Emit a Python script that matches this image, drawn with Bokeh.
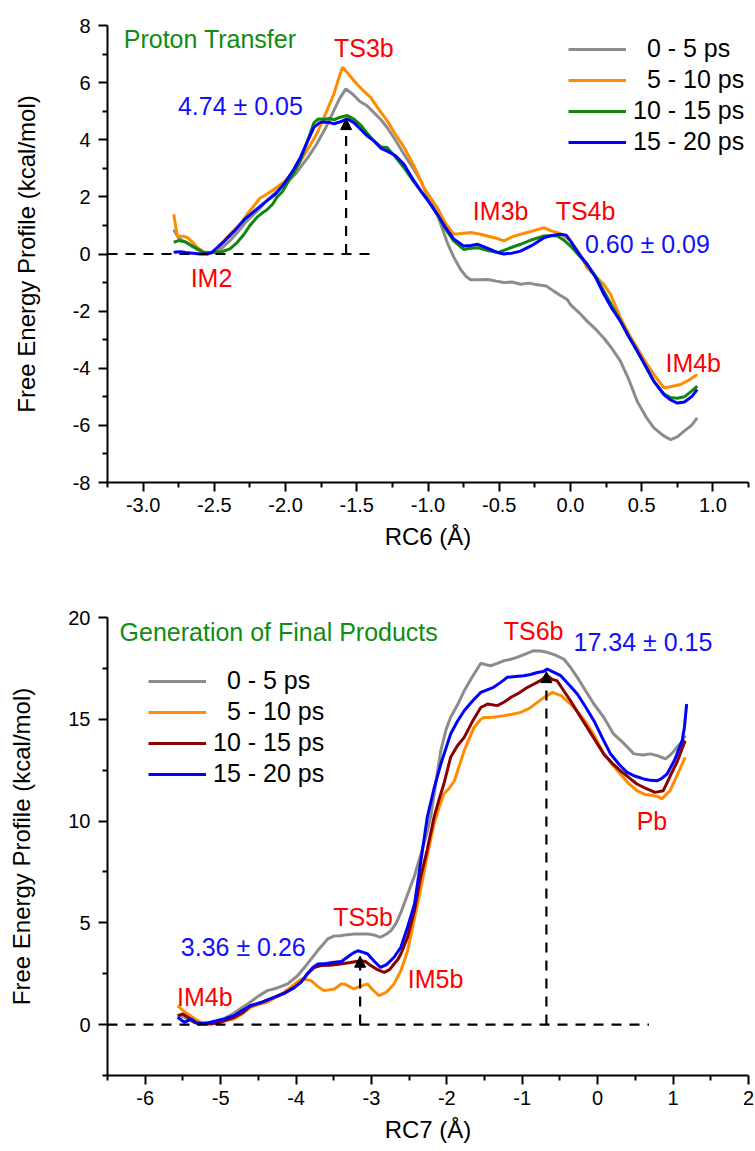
from bokeh.plotting import figure
from bokeh.models import (FixedTicker, PrintfTickFormatter, Legend, LegendItem,
                          Arrow, NormalHead)
from bokeh.layouts import column
from bokeh.embed import file_html
from bokeh.resources import INLINE
from bokeh.core.properties import value

FONT = "Liberation Sans"

series_labels = ["\u20070 - 5 ps", "\u20075 - 10 ps", "10 - 15 ps", "15 - 20 ps"]

# ---------------- Top panel: RC6 (Proton Transfer) ----------------
rc6_gray_x = [-2.785, -2.75, -2.70, -2.65, -2.60, -2.55, -2.50, -2.45, -2.39, -2.33, -2.27, -2.20, -2.13,
              -2.06, -1.99, -1.93, -1.895, -1.84, -1.78, -1.72, -1.66, -1.62, -1.577, -1.53, -1.48, -1.43,
              -1.38, -1.33, -1.287, -1.23, -1.17, -1.11, -1.05, -1.006, -0.97, -0.935, -0.90, -0.865,
              -0.82, -0.77, -0.73, -0.70, -0.64, -0.58, -0.52, -0.467, -0.41, -0.35, -0.29, -0.233,
              -0.17, -0.117, -0.07, -0.023, 0.0, 0.06, 0.117, 0.18, 0.234, 0.29, 0.351, 0.41, 0.469,
              0.53, 0.586, 0.65, 0.703, 0.75, 0.796, 0.85, 0.89]
rc6_gray_y = [0.85, 0.55, 0.40, 0.25, 0.12, 0.02, 0.05, 0.2, 0.47, 0.8, 1.17, 1.5, 1.87, 2.2, 2.51, 2.8,
              3.04, 3.4, 3.86, 4.4, 5.03, 5.45, 5.78, 5.6, 5.35, 5.2, 4.95, 4.7, 4.43, 4.0, 3.5, 3.05,
              2.56, 2.05, 1.75, 1.39, 0.9, 0.4, -0.1, -0.55, -0.8, -0.9, -0.9, -0.89, -0.95, -1.0,
              -0.98, -1.06, -1.02, -1.08, -1.12, -1.3, -1.45, -1.59, -1.77, -2.05, -2.35, -2.65, -2.94,
              -3.3, -3.75, -4.4, -5.16, -5.7, -6.09, -6.35, -6.5, -6.4, -6.21, -6.0, -5.74]

rc6_orange_x = [-2.785, -2.76, -2.72, -2.69, -2.65, -2.62, -2.58, -2.55, -2.50, -2.45, -2.40, -2.36,
                -2.31, -2.27, -2.22, -2.18, -2.13, -2.08, -2.03, -1.99, -1.94, -1.895, -1.84, -1.78,
                -1.72, -1.66, -1.63, -1.60, -1.55, -1.50, -1.45, -1.405, -1.35, -1.287, -1.23, -1.17,
                -1.10, -1.03, -0.98, -0.935, -0.88, -0.819, -0.76, -0.70, -0.64, -0.584, -0.52, -0.467,
                -0.41, -0.35, -0.27, -0.186, -0.14, -0.093, -0.05, 0.0, 0.06, 0.117, 0.18, 0.234,
                0.281, 0.351, 0.41, 0.469, 0.53, 0.586, 0.656, 0.70, 0.773, 0.83, 0.89]
rc6_orange_y = [1.39, 0.63, 0.62, 0.58, 0.4, 0.23, 0.1, 0.0, 0.08, 0.35, 0.65, 0.85, 1.1, 1.39, 1.7,
                1.95, 2.1, 2.27, 2.45, 2.62, 2.9, 3.27, 3.7, 4.21, 4.9, 5.61, 6.1, 6.54, 6.25, 5.95,
                5.7, 5.49, 5.1, 4.67, 4.2, 3.75, 3.1, 2.33, 1.95, 1.62, 1.1, 0.69, 0.72, 0.75, 0.7,
                0.63, 0.55, 0.46, 0.6, 0.69, 0.8, 0.92, 0.82, 0.75, 0.65, 0.46, 0.05, -0.48, -0.8,
                -1.06, -1.41, -2.23, -2.8, -3.29, -3.8, -4.22, -4.69, -4.65, -4.57, -4.42, -4.22]

rc6_green_x = [-2.785, -2.75, -2.70, -2.66, -2.62, -2.58, -2.52, -2.45, -2.39, -2.34, -2.29, -2.25,
               -2.20, -2.16, -2.13, -2.09, -2.06, -2.02, -1.99, -1.94, -1.895, -1.85, -1.80, -1.77,
               -1.73, -1.69, -1.66, -1.62, -1.567, -1.52, -1.47, -1.43, -1.38, -1.33, -1.287, -1.23,
               -1.17, -1.11, -1.05, -0.99, -0.935, -0.88, -0.82, -0.75, -0.70, -0.65, -0.58, -0.51,
               -0.43, -0.35, -0.27, -0.186, -0.13, -0.093, -0.05, 0.0, 0.06, 0.117, 0.18, 0.235,
               0.29, 0.351, 0.41, 0.469, 0.53, 0.586, 0.656, 0.70, 0.75, 0.80, 0.85, 0.89]
rc6_green_y = [0.41, 0.47, 0.42, 0.3, 0.18, 0.06, 0.05, 0.08, 0.18, 0.4, 0.7, 1.0, 1.29, 1.45, 1.55,
               1.75, 1.99, 2.2, 2.46, 2.85, 3.27, 3.9, 4.6, 4.73, 4.72, 4.74, 4.7, 4.78, 4.85, 4.72,
               4.5, 4.25, 3.96, 3.75, 3.73, 3.4, 3.03, 2.6, 2.21, 1.8, 1.39, 0.9, 0.46, 0.16, 0.2,
               0.22, 0.12, 0.05, 0.2, 0.34, 0.5, 0.63, 0.65, 0.63, 0.5, 0.28, -0.05, -0.36, -0.8,
               -1.3, -1.8, -2.35, -2.9, -3.4, -3.95, -4.46, -4.9, -5.02, -5.05, -5.0, -4.8, -4.63]

rc6_blue_x = [-2.785, -2.74, -2.70, -2.65, -2.60, -2.55, -2.52, -2.48, -2.43, -2.36, -2.29, -2.20,
              -2.13, -2.07, -2.01, -1.95, -1.895, -1.85, -1.80, -1.76, -1.73, -1.69, -1.66, -1.62,
              -1.567, -1.52, -1.47, -1.43, -1.38, -1.33, -1.287, -1.23, -1.17, -1.11, -1.05, -0.99,
              -0.935, -0.88, -0.82, -0.75, -0.70, -0.65, -0.58, -0.51, -0.467, -0.41, -0.35, -0.27,
              -0.186, -0.12, -0.07, -0.03, 0.0, 0.06, 0.117, 0.18, 0.235, 0.29, 0.351, 0.41, 0.469,
              0.53, 0.586, 0.656, 0.70, 0.75, 0.80, 0.85, 0.89]
rc6_blue_y = [0.06, 0.08, 0.05, 0.03, 0.0, 0.0, 0.05, 0.22, 0.45, 0.8, 1.2, 1.58, 1.87, 2.1, 2.46, 2.9,
              3.39, 3.9, 4.44, 4.6, 4.62, 4.6, 4.56, 4.62, 4.73, 4.6, 4.35, 4.15, 3.96, 3.7, 3.6,
              3.45, 3.15, 2.65, 2.2, 1.8, 1.39, 0.95, 0.53, 0.28, 0.3, 0.34, 0.2, 0.05, 0.0, 0.03,
              0.1, 0.3, 0.57, 0.66, 0.69, 0.66, 0.46, 0.0, -0.36, -0.85, -1.41, -1.9, -2.35, -2.9,
              -3.4, -3.95, -4.46, -4.92, -5.1, -5.22, -5.18, -5.0, -4.75]

rc6_state_labels = ["IM2", "TS3b", "IM3b", "TS4b", "IM4b"]
rc6_state_x = [-2.52, -1.45, -0.49, 0.106, 0.862]
rc6_state_y = [-0.83, 7.2, 1.51, 1.51, -3.81]
rc6_barrier_labels = ["4.74 \u00b1 0.05", "0.60 \u00b1 0.09"]
rc6_barrier_x = [-2.317, 0.54]
rc6_barrier_y = [5.19, 0.35]
rc6_barrier_pos = [-1.575]
rc6_barrier_val = [4.74]
rc6_zero_line_x = [-3.25, -1.38]
rc6_title = "Proton Transfer"
rc6_title_xy = (-3.136, 7.53)

# ---------------- Bottom panel: RC7 (Generation of Final Products) ----------------
rc7_gray_x = [-5.57, -5.50, -5.40, -5.30, -5.15, -5.0, -4.85, -4.75, -4.64, -4.50, -4.38, -4.25, -4.11,
              -3.98, -3.85, -3.72, -3.58, -3.50, -3.41, -3.32, -3.23, -3.14, -3.05, -2.96, -2.88,
              -2.80, -2.74, -2.67, -2.61, -2.52, -2.43, -2.35, -2.28, -2.21, -2.15, -2.08, -2.01,
              -1.95, -1.86, -1.77, -1.66, -1.55, -1.48, -1.42, -1.33, -1.24, -1.15, -1.07, -0.96,
              -0.85, -0.76, -0.67, -0.56, -0.45, -0.36, -0.27, -0.16, -0.05, 0.08, 0.21, 0.35, 0.48,
              0.60, 0.70, 0.80, 0.90, 0.98, 1.05, 1.12, 1.16]
rc7_gray_y = [0.45, 0.4, 0.2, 0.05, 0.05, 0.2, 0.5, 0.75, 1.01, 1.4, 1.67, 1.8, 2.0, 2.4, 2.98, 3.6,
              4.21, 4.35, 4.37, 4.42, 4.45, 4.45, 4.45, 4.4, 4.29, 4.45, 4.62, 5.0, 5.5, 6.4, 7.3,
              8.3, 9.2, 10.3, 11.8, 13.46, 14.5, 15.1, 15.7, 16.4, 17.1, 17.75, 17.68, 17.63, 17.75,
              17.88, 17.95, 18.04, 18.2, 18.37, 18.35, 18.29, 18.15, 17.96, 17.55, 17.06, 16.4,
              15.75, 15.1, 14.28, 13.8, 13.3, 13.25, 13.3, 13.2, 13.05, 13.3, 13.62, 13.9, 14.2]

rc7_orange_x = [-5.57, -5.50, -5.435, -5.35, -5.26, -5.15, -5.04, -4.93, -4.82, -4.71, -4.60, -4.49,
                -4.38, -4.27, -4.16, -4.05, -3.93, -3.85, -3.80, -3.72, -3.63, -3.49, -3.40, -3.36,
                -3.23, -3.18, -3.05, -2.98, -2.90, -2.80, -2.70, -2.61, -2.52, -2.43, -2.35, -2.26,
                -2.17, -2.10, -2.04, -1.97, -1.90, -1.77, -1.64, -1.55, -1.51, -1.38, -1.24, -1.13,
                -1.02, -0.90, -0.80, -0.70, -0.60, -0.48, -0.36, -0.25, -0.14, -0.03, 0.08, 0.19,
                0.30, 0.41, 0.52, 0.63, 0.74, 0.80, 0.85, 0.96, 1.06, 1.16]
rc7_orange_y = [0.93, 0.7, 0.52, 0.3, 0.11, 0.1, 0.11, 0.2, 0.28, 0.55, 0.85, 1.0, 1.1, 1.35, 1.59,
                1.9, 2.24, 2.2, 2.16, 1.9, 1.67, 1.75, 2.0, 2.0, 1.75, 1.84, 2.0, 1.7, 1.42, 1.6, 2.0,
                2.65, 3.63, 5.2, 6.6, 8.3, 9.86, 10.7, 11.33, 11.6, 11.98, 13.46, 14.6, 15.0, 15.09,
                15.1, 15.18, 15.25, 15.34, 15.55, 15.83, 16.1, 16.32, 16.15, 15.75, 15.3, 14.77, 14.1,
                13.3, 12.8, 12.31, 11.85, 11.49, 11.3, 11.25, 11.2, 11.09, 11.49, 12.3, 13.13]

rc7_red_x = [-5.57, -5.50, -5.43, -5.35, -5.24, -5.13, -5.00, -4.82, -4.70, -4.60, -4.45, -4.29, -4.15,
             -4.02, -3.93, -3.85, -3.76, -3.67, -3.55, -3.41, -3.28, -3.14, -3.08, -3.01, -2.92, -2.83,
             -2.76, -2.70, -2.65, -2.61, -2.52, -2.43, -2.35, -2.26, -2.17, -2.10, -2.04, -1.95, -1.86,
             -1.77, -1.66, -1.55, -1.46, -1.33, -1.24, -1.15, -1.04, -0.93, -0.85, -0.76, -0.67,
             -0.60, -0.54, -0.45, -0.36, -0.25, -0.14, -0.03, 0.08, 0.19, 0.30, 0.41, 0.52, 0.64,
             0.76, 0.87, 0.96, 1.05, 1.16]
rc7_red_y = [0.44, 0.52, 0.35, 0.11, 0.05, 0.03, 0.12, 0.36, 0.6, 0.93, 1.1, 1.34, 1.55, 1.83, 2.1, 2.49,
             2.8, 2.9, 2.92, 2.98, 3.05, 3.14, 3.1, 2.9, 2.7, 2.57, 2.7, 2.98, 3.2, 3.47, 4.3, 5.6, 7.2,
             8.6, 10.18, 11.1, 11.82, 13.13, 13.7, 14.11, 14.9, 15.58, 15.75, 15.67, 15.85, 16.08,
             16.3, 16.57, 16.72, 16.9, 17.14, 16.95, 16.9, 16.4, 15.91, 15.25, 14.6, 13.95, 13.3,
             12.85, 12.48, 12.15, 11.82, 11.6, 11.41, 11.49, 12.2, 12.88, 13.95]

rc7_blue_x = [-5.57, -5.48, -5.39, -5.30, -5.17, -5.04, -4.93, -4.82, -4.71, -4.60, -4.45, -4.29, -4.15,
              -4.02, -3.93, -3.85, -3.78, -3.71, -3.60, -3.49, -3.40, -3.32, -3.25, -3.18, -3.11,
              -3.05, -2.96, -2.88, -2.80, -2.70, -2.61, -2.52, -2.43, -2.35, -2.26, -2.17, -2.08,
              -1.95, -1.86, -1.77, -1.66, -1.55, -1.38, -1.29, -1.20, -1.09, -0.98, -0.89, -0.80,
              -0.72, -0.67, -0.58, -0.49, -0.38, -0.27, -0.16, -0.05, 0.06, 0.17, 0.28, 0.39, 0.50,
              0.61, 0.70, 0.79, 0.85, 0.92, 1.02, 1.12, 1.15, 1.18]
rc7_blue_y = [0.36, 0.11, 0.28, 0.03, 0.08, 0.2, 0.3, 0.44, 0.7, 0.93, 1.1, 1.34, 1.55, 1.83, 2.1,
              2.49, 2.8, 2.98, 3.0, 3.06, 3.1, 3.31, 3.5, 3.63, 3.55, 3.47, 3.1, 2.81, 2.95, 3.31,
              3.8, 4.8, 5.9, 7.9, 10.18, 11.6, 12.8, 14.28, 14.9, 15.42, 15.9, 16.32, 16.57, 16.8,
              17.06, 17.1, 17.14, 17.2, 17.3, 17.35, 17.47, 17.3, 17.14, 16.7, 16.24, 15.6, 14.93,
              14.1, 13.3, 12.8, 12.39, 12.2, 12.07, 12.0, 11.98, 12.1, 12.31, 13.0, 13.95, 14.6, 15.75]

rc7_state_labels = ["IM4b", "TS5b", "IM5b", "TS6b", "Pb"]
rc7_state_x = [-5.21, -3.11, -2.15, -0.85, 0.72]
rc7_state_y = [1.34, 5.27, 2.24, 19.35, 10.02]
rc7_barrier_labels = ["3.36 \u00b1 0.26", "17.34 \u00b1 0.15"]
rc7_barrier_x = [-4.70, 0.60]
rc7_barrier_y = [3.80, 18.78]
rc7_barrier_pos = [-3.15, -0.68]
rc7_barrier_val = [3.36, 17.34]
rc7_zero_line_x = [-6.5, 0.68]
rc7_title = "Generation of Final Products"
rc7_title_xy = (-6.34, 19.27)

GRAY, ORANGE, GREEN, BLUE, DARKRED = "#8c8c8c", "#ff8c00", "#108810", "#0000ff", "#8b0000"
LABEL_RED, VALUE_BLUE, TITLE_GREEN = "#ff0000", "#1010ff", "#118c11"
ANN_SIZE = "25px"


def make_panel(height, border_top, border_bottom, border_right, xr, yr,
               xticks, xminor, xfmt, yticks, yminor, xlabel):
    p = figure(width=755, height=height, x_range=xr, y_range=yr,
               output_backend="svg", toolbar_location=None,
               min_border_left=107, min_border_right=border_right,
               min_border_top=border_top, min_border_bottom=border_bottom)
    p.outline_line_color = None
    p.grid.visible = False
    p.background_fill_color = "white"
    p.border_fill_color = "white"
    for ax in (p.xaxis, p.yaxis):
        ax.axis_line_width = 2
        ax.axis_line_color = "black"
        ax.major_tick_line_width = 2
        ax.minor_tick_line_width = 2
        ax.major_tick_in = 0
        ax.major_tick_out = 9
        ax.minor_tick_in = 0
        ax.minor_tick_out = 5
        ax.major_label_text_font = FONT
        ax.major_label_text_font_size = "20px"
        ax.major_label_text_color = "black"
        ax.axis_label_text_font = FONT
        ax.axis_label_text_font_size = "24px"
        ax.axis_label_text_font_style = "normal"
        ax.axis_label_text_color = "black"
    p.xaxis.ticker = FixedTicker(ticks=xticks, minor_ticks=xminor)
    p.yaxis.ticker = FixedTicker(ticks=yticks, minor_ticks=yminor)
    p.xaxis.formatter = PrintfTickFormatter(format=xfmt)
    p.yaxis.formatter = PrintfTickFormatter(format="%d")
    p.xaxis.major_label_standoff = 6
    p.yaxis.major_label_standoff = 8
    p.xaxis.axis_label = xlabel
    p.yaxis.axis_label = "Free Energy Profile (kcal/mol)"
    p.xaxis.axis_label_standoff = 8
    p.yaxis.axis_label_standoff = 30
    return p


def add_common(p, curves, colors, state, barrier, arrows, zero_x, title, title_xy, legend_loc):
    rends = []
    for (xs, ys), c in zip(curves, colors):
        rends.append(p.line(xs, ys, line_color=c, line_width=3))
    # reference zero line
    p.line(zero_x, [0, 0], line_color="black", line_width=2.2, line_dash="10 8")
    for xpos, val in zip(*arrows):
        p.add_layout(Arrow(x_start=xpos, y_start=0, x_end=xpos, y_end=val,
                           line_color="black", line_width=2.2, line_dash="10 8",
                           end=NormalHead(size=11, fill_color="black", line_color="black",
                                          line_width=1)))
    labs, sx, sy = state
    p.text(x=sx, y=sy, text=labs, text_color=LABEL_RED, text_font=value(FONT),
           text_font_size=ANN_SIZE, text_align="center", text_baseline="middle")
    blabs, bx, by = barrier
    p.text(x=bx, y=by, text=blabs, text_color=VALUE_BLUE, text_font=value(FONT),
           text_font_size=ANN_SIZE, text_align="center", text_baseline="middle")
    p.text(x=[title_xy[0]], y=[title_xy[1]], text=[title], text_color=TITLE_GREEN,
           text_font=value(FONT), text_font_size=ANN_SIZE, text_align="left",
           text_baseline="middle")
    items = [LegendItem(label=lab, renderers=[r]) for lab, r in zip(series_labels, rends)]
    leg = Legend(items=items, location=legend_loc, border_line_color=None,
                 background_fill_alpha=0, padding=0, margin=0, spacing=2,
                 glyph_width=58, glyph_height=28, label_standoff=7,
                 label_text_font=FONT, label_text_font_size=ANN_SIZE,
                 label_text_color="black")
    p.add_layout(leg)


top = make_panel(580, 25, 98, 5, (-3.25, 1.25), (-8, 8),
                 [-3.0, -2.5, -2.0, -1.5, -1.0, -0.5, 0.0, 0.5, 1.0],
                 [-3.25, -2.75, -2.25, -1.75, -1.25, -0.75, -0.25, 0.25, 0.75, 1.25], "%.1f",
                 [-8, -6, -4, -2, 0, 2, 4, 6, 8], [-7, -5, -3, -1, 1, 3, 5, 7],
                 "RC6 (\u00c5)")
add_common(top,
           [(rc6_gray_x, rc6_gray_y), (rc6_orange_x, rc6_orange_y),
            (rc6_green_x, rc6_green_y), (rc6_blue_x, rc6_blue_y)],
           [GRAY, ORANGE, GREEN, BLUE],
           (rc6_state_labels, rc6_state_x, rc6_state_y),
           (rc6_barrier_labels, rc6_barrier_x, rc6_barrier_y),
           (rc6_barrier_pos, rc6_barrier_val), rc6_zero_line_x,
           rc6_title, rc6_title_xy, (461, 326))

bottom = make_panel(571, 37, 76, 7, (-6.5, 2.0), (-2.5, 20),
                    [-6, -5, -4, -3, -2, -1, 0, 1, 2],
                    [-6.5, -5.5, -4.5, -3.5, -2.5, -1.5, -0.5, 0.5, 1.5], "%d",
                    [0, 5, 10, 15, 20], [-2.5, 2.5, 7.5, 12.5, 17.5],
                    "RC7 (\u00c5)")
add_common(bottom,
           [(rc7_gray_x, rc7_gray_y), (rc7_orange_x, rc7_orange_y),
            (rc7_red_x, rc7_red_y), (rc7_blue_x, rc7_blue_y)],
           [GRAY, ORANGE, DARKRED, BLUE],
           (rc7_state_labels, rc7_state_x, rc7_state_y),
           (rc7_barrier_labels, rc7_barrier_x, rc7_barrier_y),
           (rc7_barrier_pos, rc7_barrier_val), rc7_zero_line_x,
           rc7_title, rc7_title_xy, (41, 287))

layout = column(top, bottom, spacing=0)
open("out.html", "w").write(file_html(layout, INLINE))
